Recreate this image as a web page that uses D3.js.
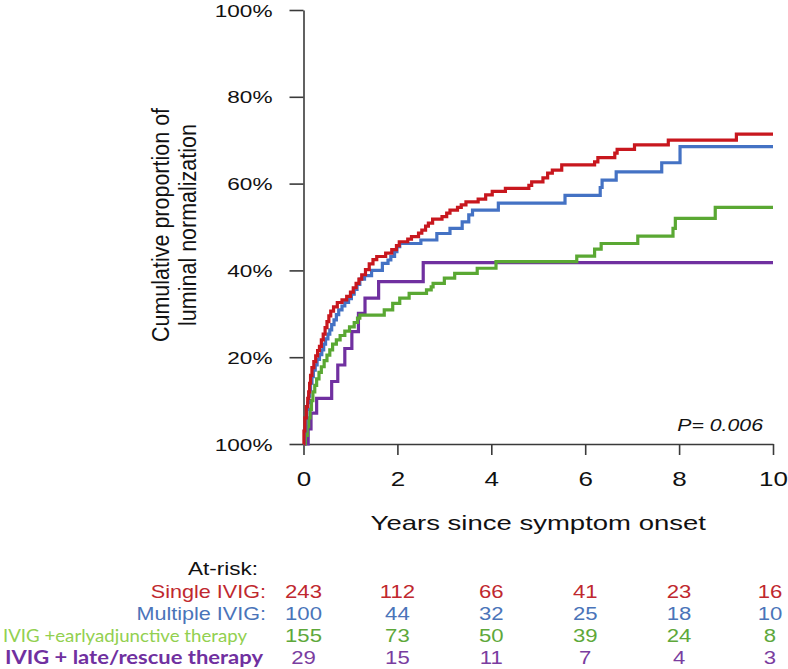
<!DOCTYPE html>
<html>
<head>
<meta charset="utf-8">
<script src="https://cdn.jsdelivr.net/npm/d3@7/dist/d3.min.js"></script>
<style>
  html, body { margin: 0; padding: 0; background: #fff; }
  svg { display: block; }
</style>
</head>
<body>
<svg id="chart" width="788" height="669"></svg>
<script>
// ---------------- DATA ----------------
const seriesNames = ["Single IVIG", "Multiple IVIG", "IVIG +earlyadjunctive therapy", "IVIG + late/rescue therapy"];

// [years, cumulative %] step points
const singleIVIG = [[0,0],[0.01,3],[0.03,6],[0.06,8.6],[0.09,10.5],[0.11,12],[0.13,14],[0.15,15.8],[0.18,17.6],[0.22,19],[0.26,20.3],[0.3,21.5],[0.34,22.5],[0.38,24],[0.42,25.3],[0.46,26.8],[0.5,28.2],[0.54,29.5],[0.58,30.6],[0.64,31.6],[0.72,32.6],[0.82,33.2],[0.92,34],[1.0,35],[1.06,36],[1.12,37],[1.18,38],[1.24,39],[1.32,40.2],[1.4,41.5],[1.48,42.5],[1.56,43.2],[1.75,44],[1.88,44.8],[1.98,45.7],[2.04,46.6],[2.22,47.2],[2.3,47.8],[2.45,48.6],[2.52,49.3],[2.6,50.2],[2.66,50.9],[2.75,51.8],[2.95,52.4],[3.05,53.2],[3.12,53.9],[3.28,54.5],[3.36,55.1],[3.46,55.8],[3.72,56.4],[3.88,57.4],[4.02,58.2],[4.3,58.9],[4.8,59.6],[4.86,60.4],[5.1,61.3],[5.2,62.4],[5.3,63.1],[5.5,64.3],[6.2,65],[6.27,66],[6.63,67],[6.68,67.9],[7.05,68.9],[7.77,70],[9.22,71.4]];

const multipleIVIG = [[0,0],[0.02,3],[0.05,6],[0.07,8],[0.09,9.5],[0.11,11],[0.13,12.5],[0.15,14],[0.18,15.5],[0.21,17],[0.25,18.2],[0.29,19.5],[0.34,20.6],[0.39,21.7],[0.43,23],[0.47,24.2],[0.52,25.3],[0.56,26.3],[0.6,27.5],[0.65,28.6],[0.7,29.8],[0.75,30.9],[0.82,31.8],[0.88,32.6],[0.96,33.5],[1.02,34.5],[1.08,35.6],[1.14,36.8],[1.2,38],[1.3,38.8],[1.45,40],[1.68,41.6],[1.8,42.4],[1.86,43.2],[1.94,44.3],[1.99,45.5],[2.05,46.2],[2.5,47],[2.84,48.5],[3.12,49.7],[3.38,51.2],[3.52,52.8],[3.6,53.9],[4.15,55.5],[5.57,57.3],[6.32,59.1],[6.36,60.8],[6.66,62.7],[7.63,64.8],[8.02,68.5]];

const earlyAdjunctive = [[0,0],[0.04,2],[0.08,4],[0.11,6],[0.14,8],[0.17,10],[0.2,12],[0.24,13.5],[0.28,15],[0.33,16.5],[0.38,17.8],[0.44,19.2],[0.5,20.5],[0.56,21.7],[0.62,23],[0.7,24],[0.78,25],[0.88,26],[0.98,27],[1.08,28],[1.15,29],[1.2,29.7],[1.72,30.9],[1.9,32.4],[2.05,33.6],[2.25,34.7],[2.62,35.5],[2.72,36.2],[2.76,37],[3.0,38.2],[3.22,39.3],[3.7,40.5],[4.1,42],[5.82,43.3],[6.2,44.9],[6.34,46.2],[7.12,47.9],[7.87,49.7],[7.92,52],[8.77,54.5]];

const lateRescue = [[0,0],[0.1,3.5],[0.16,7.1],[0.28,10.5],[0.6,14.4],[0.73,18.2],[0.88,22],[1.03,25.9],[1.17,30.1],[1.31,33.6],[1.6,37.4],[2.55,41.8]];

const xTicks = [0, 2, 4, 6, 8, 10];
const yTicks = [0, 20, 40, 60, 80, 100];
const yTickLabels = ["100%", "20%", "40%", "60%", "80%", "100%"];

const atRiskSingle   = [243, 112, 66, 41, 23, 16];
const atRiskMultiple = [100, 44, 32, 25, 18, 10];
const atRiskEarly    = [155, 73, 50, 39, 24, 8];
const atRiskLate     = [29, 15, 11, 7, 4, 3];

const pValueText = "P= 0.006";
const xTitle = "Years since symptom onset";
const yTitle = ["Cumulative proportion of", "luminal normalization"];

// ---------------- STYLE ----------------
const lineColors = ["#c8171e", "#4472c4", "#5aa833", "#7030a0"];
const labelColors = ["#c0282e", "#4a74b9", "#92d050", "#7030a0"];
const numColors = ["#c0282e", "#4a74b9", "#5ea83a", "#7a3da0"];
const FONT = "'Liberation Sans', Arial, Helvetica, sans-serif";

// ---------------- CHART ----------------
const svg = d3.select("#chart");
const x = d3.scaleLinear().domain([0, 10]).range([303.5, 773]);
const y = d3.scaleLinear().domain([0, 100]).range([444, 10]);

// Axes
const yAxis = d3.axisLeft(y).tickValues(yTicks).tickSize(14).tickSizeOuter(0)
  .tickFormat((d, i) => yTickLabels[i]);
const gy = svg.append("g").attr("transform", `translate(${x(0)},0)`).call(yAxis);
gy.selectAll("path, line").attr("stroke", "#3a3a3a").attr("stroke-width", 1.6);
gy.selectAll("text")
  .attr("x", 0).attr("dy", "0.36em")
  .attr("transform", "translate(-31,0) scale(1.33,1)")
  .attr("font-family", FONT).attr("font-size", 17).attr("fill", "#111");

const xAxis = d3.axisBottom(x).tickValues(xTicks).tickSize(11).tickSizeOuter(0);
const gx = svg.append("g").attr("transform", `translate(0,${y(0)})`).call(xAxis);
gx.selectAll("path, line").attr("stroke", "#3a3a3a").attr("stroke-width", 1.6);
gx.selectAll("text")
  .attr("y", 0).attr("dy", 0)
  .attr("transform", "translate(0,42) scale(1.3,1)")
  .attr("font-family", FONT).attr("font-size", 20).attr("fill", "#111");

// Axis titles
svg.append("text")
  .attr("transform", `translate(${x(5)},530) scale(1.31,1)`)
  .attr("text-anchor", "middle")
  .attr("font-family", FONT).attr("font-size", 21).attr("fill", "#111")
  .text(xTitle);

const ySx = 1.15;
const yt = svg.append("text")
  .attr("transform", `translate(0,225) scale(${ySx},1) rotate(-90)`)
  .attr("text-anchor", "middle")
  .attr("font-family", FONT).attr("font-size", 21.5).attr("fill", "#111");
yt.append("tspan").attr("x", 0).attr("y", 169 / ySx).text(yTitle[0]);
yt.append("tspan").attr("x", 0).attr("y", 196 / ySx).text(yTitle[1]);

// Curves
const allSeries = [singleIVIG, multipleIVIG, earlyAdjunctive, lateRescue];
const line = d3.line()
  .x(d => x(d[0]))
  .y(d => y(d[1]))
  .curve(d3.curveStepAfter);

// draw in order: purple, green, blue, red (red on top)
[3, 2, 1, 0].forEach(i => {
  const s = allSeries[i];
  const pts = s.concat([[10, s[s.length - 1][1]]]);
  svg.append("path")
    .datum(pts)
    .attr("fill", "none")
    .attr("stroke", lineColors[i])
    .attr("stroke-width", 3.2)
    .attr("stroke-linejoin", "miter")
    .attr("d", line);
});

// P value
svg.append("text")
  .attr("transform", "translate(763,431) scale(1.33,1)")
  .attr("text-anchor", "end")
  .attr("font-family", FONT).attr("font-size", 16).attr("font-style", "italic").attr("fill", "#111")
  .text(pValueText);

// At-risk table
svg.append("text")
  .attr("transform", "translate(258,575) scale(1.25,1)")
  .attr("text-anchor", "end")
  .attr("font-family", FONT).attr("font-size", 18).attr("fill", "#111")
  .text("At-risk:");

const rowBase = [598, 620, 642, 664];
const atRisk = [atRiskSingle, atRiskMultiple, atRiskEarly, atRiskLate];

// labels
svg.append("text")
  .attr("transform", `translate(266,${rowBase[0]}) scale(1.2,1)`)
  .attr("text-anchor", "end")
  .attr("font-family", FONT).attr("font-size", 18).attr("fill", labelColors[0])
  .text(seriesNames[0] + ":");
svg.append("text")
  .attr("transform", `translate(266,${rowBase[1]}) scale(1.2,1)`)
  .attr("text-anchor", "end")
  .attr("font-family", FONT).attr("font-size", 18).attr("fill", labelColors[1])
  .text(seriesNames[1] + ":");
svg.append("text")
  .attr("x", 3).attr("y", rowBase[2])
  .attr("textLength", 244).attr("lengthAdjust", "spacingAndGlyphs")
  .attr("font-family", "Lato, 'Open Sans', sans-serif").attr("font-size", 18).attr("fill", labelColors[2])
  .text(seriesNames[2]);
svg.append("text")
  .attr("x", 5).attr("y", rowBase[3])
  .attr("textLength", 258).attr("lengthAdjust", "spacingAndGlyphs")
  .attr("font-family", "Lato, 'Open Sans', sans-serif").attr("font-size", 18).attr("font-weight", "bold").attr("fill", labelColors[3])
  .text(seriesNames[3]);

// numbers
atRisk.forEach((row, r) => {
  svg.append("g").selectAll("text")
    .data(row)
    .join("text")
    .attr("transform", (d, i) => `translate(${x(xTicks[i]) - (i === 5 ? 3 : 0)},${rowBase[r]}) scale(1.23,1)`)
    .attr("text-anchor", "middle")
    .attr("font-family", FONT).attr("font-size", 18).attr("fill", numColors[r])
    .text(d => d);
});
</script>
</body>
</html>
